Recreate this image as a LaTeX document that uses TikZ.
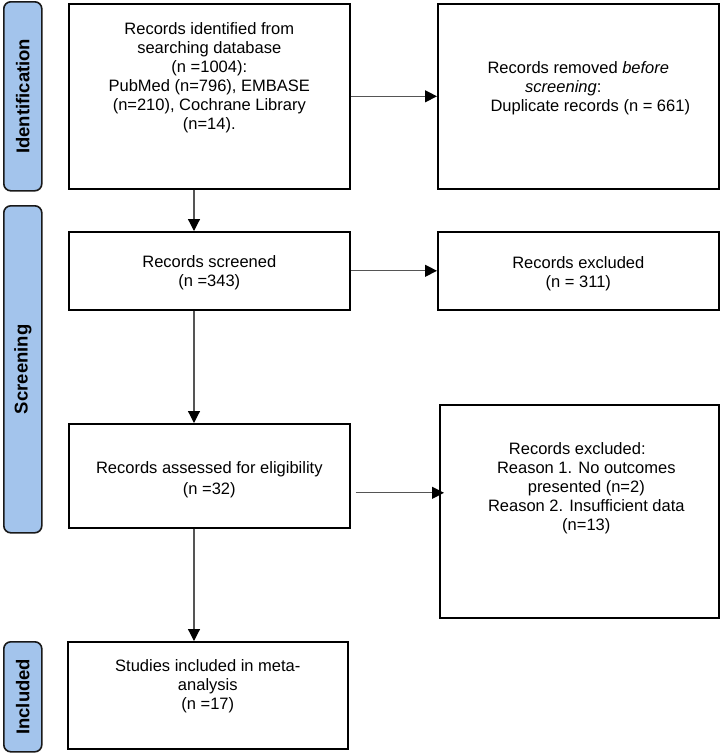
\documentclass[tikz,border=0pt]{standalone}
\usepackage{fontspec}
\setmainfont{Liberation Sans}
\usetikzlibrary{arrows.meta}
\definecolor{barblue}{RGB}{163,196,236}
\definecolor{linegray}{RGB}{85,85,85}
\newcommand{\bxt}[4]{\parbox[c][#2pt][t]{#1pt}{\centering\fontsize{16.5pt}{19pt}\selectfont\rule{0pt}{#3pt}#4}}
\begin{document}
\begin{tikzpicture}[x=1pt,y=-1pt,
  box/.style={draw=black, line width=1.6pt, rectangle, inner sep=0pt, anchor=north west},
  bar/.style={draw=black!90, fill=barblue, line width=1.6pt, rounded corners=7pt, anchor=north west, inner sep=0pt, minimum width=38pt, font=\fontsize{18.5pt}{22pt}\selectfont\bfseries},
  conn/.style={draw=linegray, line width=1.2pt, -{Triangle[length=12pt,width=12pt,color=black]}}]
\useasboundingbox (0,0) rectangle (721,753);

% phase bars
\node[bar, minimum height=189pt] (bid) at (3,1) {\rotatebox{90}{Identification}};
\node[bar, minimum height=327pt] (bsc) at (3,205) {\rotatebox{90}{Screening}};
\node[bar, minimum height=110pt] (bin) at (3,641) {\rotatebox{90}{Included}};

% boxes
\node[box] (id) at (68,3) {\bxt{281}{185}{31}{Records identified from\\ searching database\\ (n =1004):\\ PubMed (n=796), EMBASE\\ (n=210), Cochrane Library\\ (n=14).}};
\node[box] (rem) at (437,3) {\bxt{281}{185}{70}{Records removed \textit{before}\\ \textit{screening}:\rule{30pt}{0pt}\\ \rule{24pt}{0pt}Duplicate records (n = 661)}};
\node[box] (scr) at (68,231) {\bxt{281}{78}{36}{Records screened\\ (n =343)}};
\node[box] (exc) at (437,231) {\bxt{281}{78}{37}{Records excluded\\ (n = 311)}};
\node[box] (eli) at (68,423) {\bxt{281}{104}{50}{Records assessed for eligibility\\[2pt] (n =32)}};
\node[box] (rea) at (439,404) {\bxt{279}{213}{50}{Records excluded:\rule{4pt}{0pt}\\ \rule{14pt}{0pt}Reason 1. No outcomes\\ \rule{14pt}{0pt}presented (n=2)\\ \rule{14pt}{0pt}Reason 2. Insufficient data\\ \rule{14pt}{0pt}(n=13)}};
\node[box] (inc) at (67,641) {\bxt{280}{107}{30}{Studies included in meta-\\ analysis\\ (n =17)}};

% connectors
\coordinate (vx) at (194,0);
\draw[conn] (id.east) -- (rem.west);
\draw[conn] (scr.east) -- (exc.west);
\draw[conn] ([shift={(5,17)}]eli.east) -- ([shift={(5,17)}]eli.east -| rea.west);
\draw[conn] (id.south -| vx) -- (scr.north -| vx);
\draw[conn] (scr.south -| vx) -- (eli.north -| vx);
\draw[conn] (eli.south -| vx) -- (inc.north -| vx);
\end{tikzpicture}
\end{document}
